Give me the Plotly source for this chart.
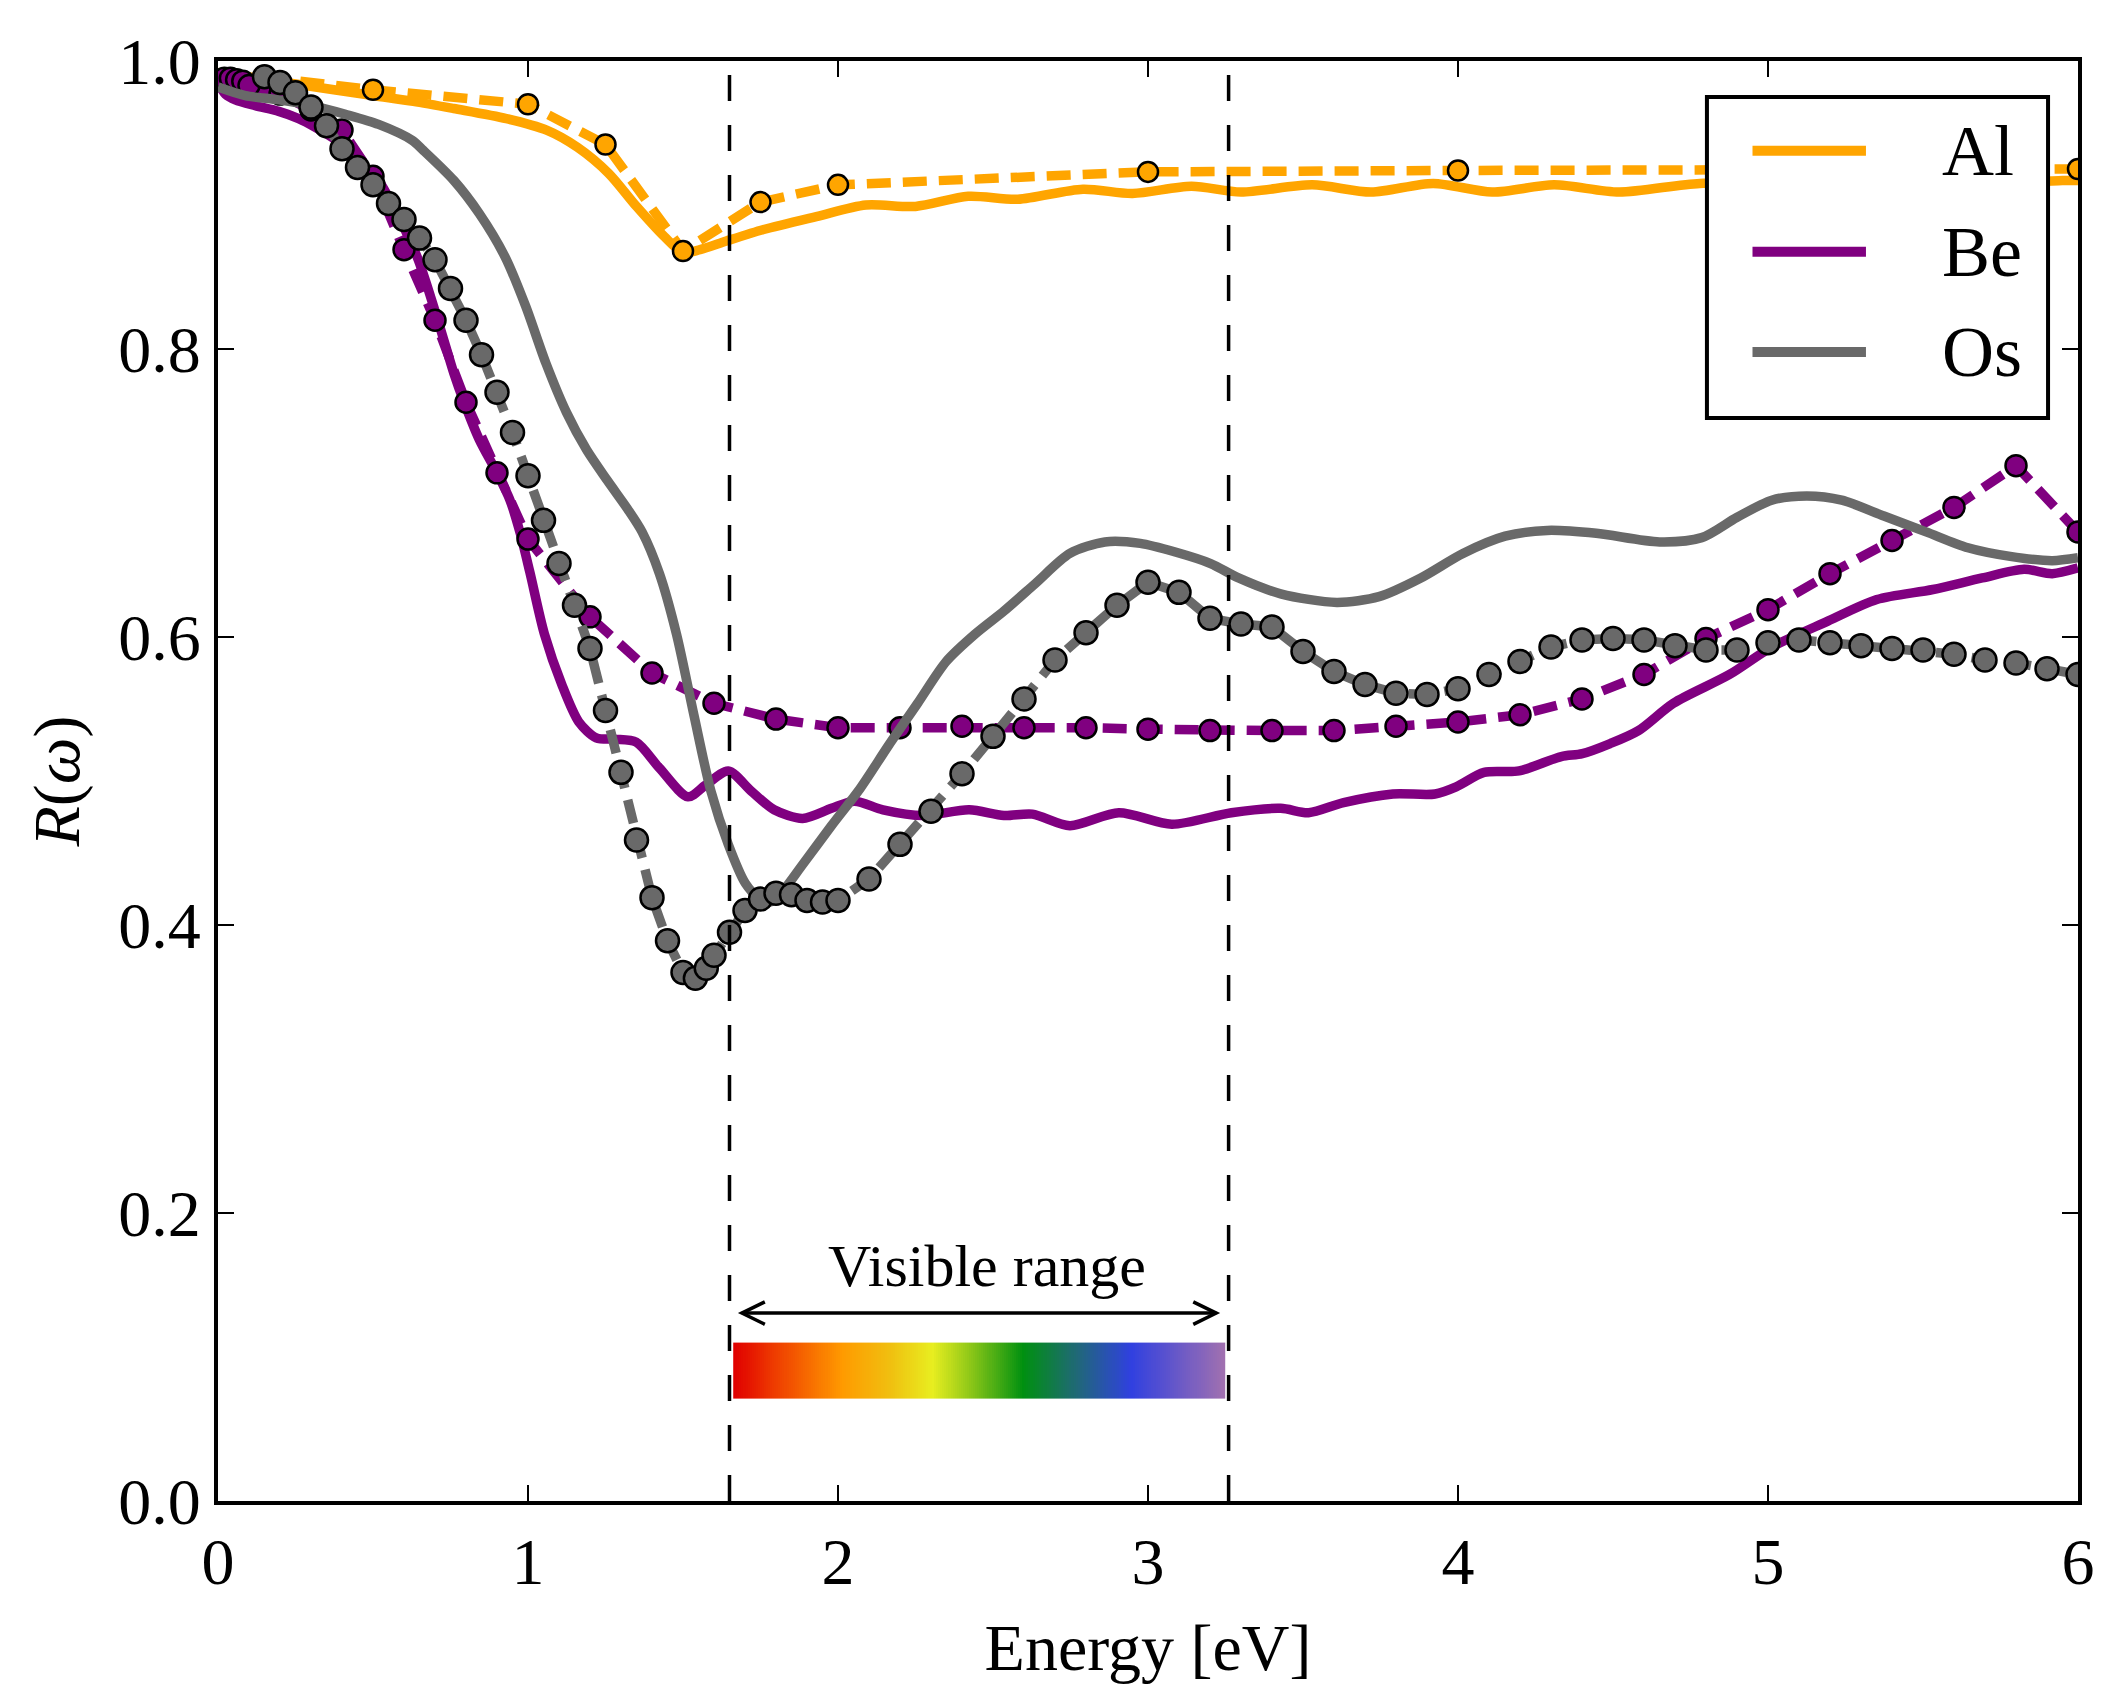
import numpy as np
import plotly.graph_objects as go

# ---------------- data ----------------
AL_MODEL_X = [0.0, 0.1, 0.25, 0.5, 0.63, 0.76, 0.93, 1.06, 1.16, 1.26, 1.35, 1.44, 1.50, 1.555, 1.64, 1.76,
              1.93, 2.09, 2.25, 2.42, 2.58, 2.79, 2.95, 3.14, 3.30, 3.53, 3.72, 3.92, 4.11, 4.31, 4.52, 4.78,
              5.0, 5.3, 5.6, 5.95, 6.0]
AL_MODEL_Y = [0.992, 0.989, 0.984, 0.976, 0.972, 0.967, 0.960, 0.952, 0.940, 0.922, 0.899, 0.878, 0.867, 0.869,
              0.875, 0.883, 0.892, 0.900, 0.899, 0.906, 0.904, 0.911, 0.908, 0.913, 0.909, 0.914, 0.909, 0.915,
              0.909, 0.914, 0.909, 0.915, 0.913, 0.917, 0.914, 0.917, 0.917]

AL_DATA_X = [0.15, 0.5, 1.0, 1.25, 1.5, 1.75, 2.0, 3.0, 4.0, 6.0]
AL_DATA_Y = [0.989, 0.980, 0.970, 0.942, 0.868, 0.902, 0.914, 0.923, 0.924, 0.925]

BE_MODEL_X = [0.0, 0.007, 0.024, 0.056, 0.12, 0.196, 0.26, 0.314, 0.368, 0.422, 0.475, 0.518, 0.58, 0.646,
              0.712, 0.761, 0.794, 0.843, 0.90, 0.942, 0.975, 1.006, 1.053, 1.109, 1.164, 1.22, 1.28, 1.349,
              1.424, 1.516, 1.572, 1.646, 1.72, 1.794, 1.886, 1.979, 2.053, 2.145, 2.275, 2.423, 2.535, 2.627,
              2.748, 2.906, 3.077, 3.269, 3.428, 3.518, 3.631, 3.79, 3.926, 3.994, 4.084, 4.197, 4.333, 4.401,
              4.491, 4.582, 4.695, 4.876, 5.012, 5.193, 5.351, 5.532, 5.691, 5.826, 5.917, 6.0]
BE_MODEL_Y = [0.984, 0.982, 0.977, 0.973, 0.969, 0.965, 0.960, 0.954, 0.947, 0.938, 0.926, 0.917, 0.893, 0.862,
              0.818, 0.783, 0.763, 0.737, 0.714, 0.695, 0.672, 0.645, 0.602, 0.567, 0.541, 0.530, 0.529, 0.527,
              0.509, 0.489, 0.497, 0.507, 0.493, 0.480, 0.474, 0.481, 0.486, 0.480, 0.476, 0.480, 0.476, 0.477,
              0.469, 0.478, 0.470, 0.478, 0.481, 0.478, 0.485, 0.491, 0.491, 0.496, 0.506, 0.507, 0.517, 0.519,
              0.526, 0.535, 0.554, 0.574, 0.593, 0.611, 0.626, 0.633, 0.641, 0.647, 0.644, 0.648]

BE_DATA_X = [0.02, 0.04, 0.06, 0.08, 0.1, 0.2, 0.3, 0.4, 0.5, 0.6, 0.7, 0.8, 0.9, 1.0, 1.2, 1.4, 1.6, 1.8,
             2.0, 2.2, 2.4, 2.6, 2.8, 3.0, 3.2, 3.4, 3.6, 3.8, 4.0, 4.2, 4.4, 4.6, 4.8, 5.0, 5.2, 5.4, 5.6,
             5.8, 6.0]
BE_DATA_Y = [0.988, 0.988, 0.987, 0.986, 0.983, 0.977, 0.966, 0.952, 0.920, 0.869, 0.820, 0.763, 0.714, 0.668,
             0.614, 0.575, 0.554, 0.543, 0.537, 0.537, 0.538, 0.537, 0.537, 0.536, 0.535, 0.535, 0.535, 0.538,
             0.541, 0.546, 0.557, 0.574, 0.599, 0.619, 0.644, 0.667, 0.690, 0.719, 0.673]

OS_MODEL_X = [0.0, 0.088, 0.196, 0.303, 0.411, 0.518, 0.626, 0.662, 0.761, 0.843, 0.926, 0.992, 1.058, 1.124,
              1.189, 1.255, 1.321, 1.368, 1.424, 1.479, 1.535, 1.59, 1.646, 1.701, 1.747, 1.78, 1.812, 1.886,
              1.979, 2.072, 2.164, 2.257, 2.349, 2.442, 2.535, 2.636, 2.748, 2.861, 2.975, 3.088, 3.202, 3.292,
              3.428, 3.609, 3.745, 3.880, 4.016, 4.152, 4.288, 4.446, 4.65, 4.786, 4.899, 5.012, 5.125, 5.238,
              5.374, 5.51, 5.645, 5.781, 5.917, 6.0]
OS_MODEL_Y = [0.982, 0.976, 0.973, 0.969, 0.963, 0.956, 0.945, 0.938, 0.917, 0.894, 0.864, 0.830, 0.790, 0.756,
              0.730, 0.709, 0.689, 0.673, 0.644, 0.602, 0.546, 0.493, 0.456, 0.429, 0.418, 0.416, 0.421, 0.442,
              0.469, 0.495, 0.525, 0.554, 0.583, 0.602, 0.618, 0.637, 0.658, 0.666, 0.665, 0.659, 0.651, 0.641,
              0.630, 0.624, 0.628, 0.641, 0.658, 0.670, 0.674, 0.672, 0.666, 0.669, 0.683, 0.695, 0.698, 0.695,
              0.684, 0.673, 0.662, 0.656, 0.653, 0.655]

OS_DATA_X = [0.15, 0.2, 0.25, 0.3, 0.35, 0.4, 0.45, 0.5, 0.55, 0.6, 0.65, 0.7, 0.75, 0.8, 0.85, 0.9, 0.95, 1.0,
             1.05, 1.1, 1.15, 1.2, 1.25, 1.3, 1.35, 1.4, 1.45, 1.5, 1.54, 1.575, 1.6, 1.65, 1.7, 1.75, 1.8,
             1.85, 1.9, 1.95, 2.0, 2.1, 2.2, 2.3, 2.4, 2.5, 2.6, 2.7, 2.8, 2.9, 3.0, 3.1, 3.2, 3.3, 3.4, 3.5,
             3.6, 3.7, 3.8, 3.9, 4.0, 4.1, 4.2, 4.3, 4.4, 4.5, 4.6, 4.7, 4.8, 4.9, 5.0, 5.1, 5.2, 5.3, 5.4,
             5.5, 5.6, 5.7, 5.8, 5.9, 6.0]
OS_DATA_Y = [0.989, 0.985, 0.978, 0.968, 0.955, 0.939, 0.926, 0.914, 0.901, 0.890, 0.877, 0.862, 0.842, 0.820,
             0.796, 0.770, 0.742, 0.712, 0.681, 0.651, 0.622, 0.592, 0.549, 0.506, 0.459, 0.419, 0.389, 0.367,
             0.363, 0.370, 0.379, 0.395, 0.410, 0.418, 0.422, 0.421, 0.417, 0.416, 0.417, 0.432, 0.456, 0.479,
             0.505, 0.531, 0.557, 0.584, 0.603, 0.622, 0.638, 0.631, 0.613, 0.609, 0.607, 0.590, 0.576, 0.567,
             0.561, 0.560, 0.564, 0.574, 0.583, 0.593, 0.598, 0.599, 0.598, 0.594, 0.591, 0.591, 0.596, 0.598,
             0.596, 0.594, 0.592, 0.591, 0.588, 0.584, 0.582, 0.578, 0.574]

SERIES_NAMES = ["Al", "Be", "Os"]
SERIES_COLORS = ["#FFA500", "#800080", "#696969"]

VIS_MIN, VIS_MAX = 1.65, 3.26            # visible range limits [eV]
X_TICKS = [0, 1, 2, 3, 4, 5, 6]
Y_TICKS = [0.0, 0.2, 0.4, 0.6, 0.8, 1.0]
Y_TICK_TEXT = ["0.0", "0.2", "0.4", "0.6", "0.8", "1.0"]

SPECTRUM_STOPS = [[0.0, "#e00000"], [0.08, "#ee3a00"], [0.22, "#ff9a00"], [0.32, "#f0c010"],
                  [0.405, "#e8ee20"], [0.48, "#90c818"], [0.59, "#009010"], [0.70, "#206878"],
                  [0.81, "#3040e0"], [1.0, "#a070b0"]]

FONT = "'Liberation Serif', 'Times New Roman', 'DejaVu Serif', serif"
LW = 9.5
DASH = "24px,12px"

fig = go.Figure()

models = [(AL_MODEL_X, AL_MODEL_Y), (BE_MODEL_X, BE_MODEL_Y), (OS_MODEL_X, OS_MODEL_Y)]
datas = [(AL_DATA_X, AL_DATA_Y), (BE_DATA_X, BE_DATA_Y), (OS_DATA_X, OS_DATA_Y)]
msizes = [20, 21, 23]

for i, name in enumerate(SERIES_NAMES):
    mx, my = models[i]
    dx, dy = datas[i]
    fig.add_trace(go.Scatter(x=mx, y=my, mode="lines", name=name,
                             line=dict(color=SERIES_COLORS[i], width=LW, shape="spline", smoothing=0.8),
                             showlegend=False, hoverinfo="skip"))
    fig.add_trace(go.Scatter(x=dx, y=dy, mode="lines+markers", name=name + " data",
                             line=dict(color=SERIES_COLORS[i], width=LW, dash=DASH),
                             marker=dict(size=msizes[i], color=SERIES_COLORS[i],
                                         line=dict(color="black", width=2.5)),
                             showlegend=False, hoverinfo="skip"))

# visible spectrum bar
n_col = 240
edges = np.linspace(1.662, 3.248, n_col + 1)
fig.add_trace(go.Heatmap(x=edges, y=[0.071, 0.110], z=[np.linspace(0, 1, n_col)],
                         colorscale=SPECTRUM_STOPS, showscale=False, hoverinfo="skip", zsmooth=False))

shapes = []
# vertical dashed lines at visible limits
for xv in (VIS_MIN, VIS_MAX):
    shapes.append(dict(type="line", xref="x", yref="paper", x0=xv, x1=xv, y0=0, y1=1,
                       line=dict(color="black", width=3.5, dash="26px,24px"), layer="above"))

# double arrow
ya = 0.1305
xl, xr = 1.69, 3.22
hdx, hdy = 0.074, 0.0078
shapes.append(dict(type="line", xref="x", yref="y", x0=xl, x1=xr, y0=ya, y1=ya,
                   line=dict(color="black", width=3.5), layer="above"))
shapes.append(dict(type="path", xref="x", yref="y",
                   path=f"M {xl + hdx},{ya + hdy} L {xl},{ya} L {xl + hdx},{ya - hdy}",
                   line=dict(color="black", width=3.5), layer="above"))
shapes.append(dict(type="path", xref="x", yref="y",
                   path=f"M {xr - hdx},{ya + hdy} L {xr},{ya} L {xr - hdx},{ya - hdy}",
                   line=dict(color="black", width=3.5), layer="above"))

# manual legend (box, line samples)
LEG_X0, LEG_X1, LEG_Y0, LEG_Y1 = 0.8005, 0.9839, 0.752, 0.975
shapes.append(dict(type="rect", xref="paper", yref="paper", x0=LEG_X0, x1=LEG_X1, y0=LEG_Y0, y1=LEG_Y1,
                   fillcolor="white", line=dict(color="black", width=4), layer="above"))
leg_rows = [0.9377, 0.8676, 0.7980]
annotations = []
for i, name in enumerate(SERIES_NAMES):
    shapes.append(dict(type="line", xref="paper", yref="paper", x0=0.825, x1=0.886,
                       y0=leg_rows[i], y1=leg_rows[i],
                       line=dict(color=SERIES_COLORS[i], width=10), layer="above"))
    annotations.append(dict(xref="paper", yref="paper", x=0.926, y=leg_rows[i], text=name,
                            showarrow=False, xanchor="left", yanchor="middle",
                            font=dict(family=FONT, size=72, color="black")))

annotations.append(dict(xref="x", yref="y", x=2.48, y=0.163, text="Visible range", showarrow=False,
                        xanchor="center", yanchor="middle", font=dict(family=FONT, size=60, color="black")))

axis_common = dict(showline=True, linecolor="black", linewidth=4, mirror="ticks",
                   ticks="inside", ticklen=16, tickwidth=2, tickcolor="black",
                   showgrid=False, zeroline=False, automargin=False,
                   tickfont=dict(family=FONT, size=66, color="black"))

fig.update_layout(
    width=2125, height=1699,
    margin=dict(l=218, r=47, t=61, b=198),
    paper_bgcolor="white", plot_bgcolor="white",
    showlegend=False,
    font=dict(family=FONT, color="black"),
    shapes=shapes, annotations=annotations,
    xaxis=dict(range=[0, 6], tickvals=X_TICKS, ticktext=[str(v) for v in X_TICKS],
               title=dict(text="Energy [eV]", font=dict(family=FONT, size=66, color="black"), standoff=28),
               **axis_common),
    yaxis=dict(range=[0, 1], tickvals=Y_TICKS, ticktext=Y_TICK_TEXT,
               title=dict(text="<i>R</i>(<i>ω</i>)", font=dict(family=FONT, size=66, color="black"), standoff=18),
               **axis_common),
)

fig.write_html("out.html")
